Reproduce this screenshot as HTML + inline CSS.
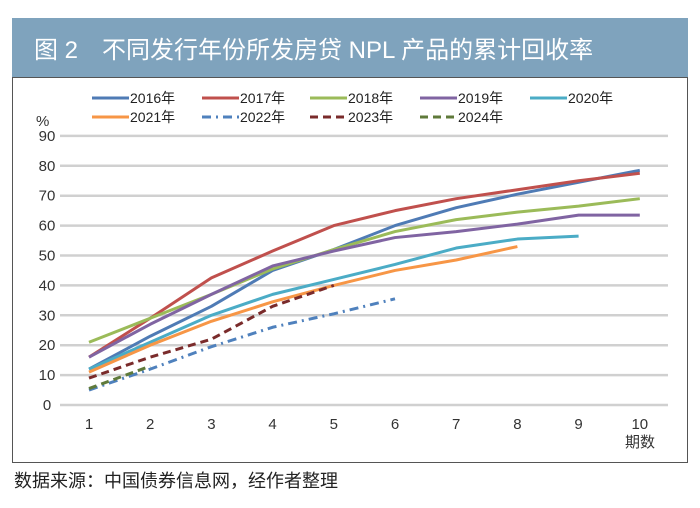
<!DOCTYPE html>
<html><head><meta charset="utf-8"><style>
html,body{margin:0;padding:0;background:#fff;}
body{width:700px;height:503px;position:relative;overflow:hidden;font-family:"Liberation Sans","Noto Sans CJK SC",sans-serif;}
</style></head><body>
<svg width="700" height="503" xmlns="http://www.w3.org/2000/svg">
<rect x="12" y="18" width="676" height="59" fill="#7fa3bd"/>
<text x="34" y="58" font-size="24" fill="#fff" font-family="Liberation Sans, Noto Sans CJK SC, sans-serif">图 2　不同发行年份所发房贷 NPL 产品的累计回收率</text>
<rect x="12.5" y="77.5" width="675" height="385" fill="none" stroke="#555" stroke-width="1"/>
<g id="grid"></g><g id="series"></g><g id="legend"></g>
<text x="36" y="126" font-size="15" fill="#333">%</text>
<text x="640" y="447" font-size="15" fill="#333" text-anchor="middle" font-family="Noto Sans CJK SC, sans-serif">期数</text>
<text x="14" y="487" font-size="18" fill="#222" font-family="Liberation Sans, Noto Sans CJK SC, sans-serif">数据来源：中国债券信息网，经作者整理</text>
</svg>
<script>
const periods=[1,2,3,4,5,6,7,8,9,10];
const yTicks=[0,10,20,30,40,50,60,70,80,90];
const names=["2016年","2017年","2018年","2019年","2020年","2021年","2022年","2023年","2024年"];
const s2016=[12,23,33,45,52,60,66,70.5,74.5,78.5];
const s2017=[16,29,42.5,51.5,60,65,69,72,75,77.5];
const s2018=[21,29,37,45.5,52,58,62,64.5,66.5,69];
const s2019=[16,27,37,46.5,51.5,56,58,60.5,63.5,63.5];
const s2020=[12,21,30,37,42,47,52.5,55.5,56.5];
const s2021=[11,20,28,34.5,40,45,48.5,53];
const s2022=[5,12,19.5,26,30.5,35.5];
const s2023=[9,16,22,33,40];
const s2024=[5.5,13];
const seriesData=[s2016,s2017,s2018,s2019,s2020,s2021,s2022,s2023,s2024];
const colors=["#4f7bb5","#c0504d","#9bbb59","#8064a2","#4bacc6","#f79646","#4f81bd","#7a2b2b","#5f7a3a"];
const dashes=["","","","","","","9,5,2,5","8,5","8,5"];
const NS="http://www.w3.org/2000/svg";
const x=p=>89+(p-1)*61.2;
const y=v=>405-v*2.99;
const grid=document.getElementById('grid');
yTicks.forEach(t=>{
 const l=document.createElementNS(NS,'line');
 l.setAttribute('x1',60);l.setAttribute('x2',668);l.setAttribute('y1',y(t));l.setAttribute('y2',y(t));
 l.setAttribute('stroke','#d0d0d0');l.setAttribute('stroke-width','2.5');
 
 
 grid.appendChild(l);
 const tx=document.createElementNS(NS,'text');
 tx.setAttribute('x',47);tx.setAttribute('y',y(t)+5);tx.setAttribute('font-size','15');tx.setAttribute('fill','#333');tx.setAttribute('text-anchor','middle');
 tx.textContent=t;
 
 
 grid.appendChild(tx);
});
periods.forEach(p=>{
 const tx=document.createElementNS(NS,'text');
 tx.setAttribute('x',x(p));tx.setAttribute('y',429);tx.setAttribute('font-size','15');tx.setAttribute('fill','#333');tx.setAttribute('text-anchor','middle');
 tx.textContent=p;
 
 
 grid.appendChild(tx);
});
const sg=document.getElementById('series');
seriesData.forEach((d,i)=>{
 const pl=document.createElementNS(NS,'polyline');
 pl.setAttribute('points',d.map((v,j)=>x(periods[j])+','+y(v)).join(' '));
 pl.setAttribute('fill','none');pl.setAttribute('stroke',colors[i]);pl.setAttribute('stroke-width','3');
 pl.setAttribute('stroke-linejoin','round');
 if(dashes[i])pl.setAttribute('stroke-dasharray',dashes[i]);
 
 
 sg.appendChild(pl);
});
const lg=document.getElementById('legend');
const lx=[92,202,310,420,530];
names.forEach((n,i)=>{
 const r=Math.floor(i/5),c=i%5;
 const yy=r?117:98,xx=lx[c];
 const g=document.createElementNS(NS,'g');
 
 
 const l=document.createElementNS(NS,'line');
 l.setAttribute('x1',xx);l.setAttribute('x2',xx+37);l.setAttribute('y1',yy);l.setAttribute('y2',yy);
 l.setAttribute('stroke',colors[i]);l.setAttribute('stroke-width','3');
 if(dashes[i])l.setAttribute('stroke-dasharray',dashes[i]);
 g.appendChild(l);
 const t=document.createElementNS(NS,'text');
 t.setAttribute('x',xx+38);t.setAttribute('y',yy+5);t.setAttribute('font-size','14');t.setAttribute('fill','#222');
 t.textContent=n;
 g.appendChild(t);
 lg.appendChild(g);
});
</script>
</body></html>
